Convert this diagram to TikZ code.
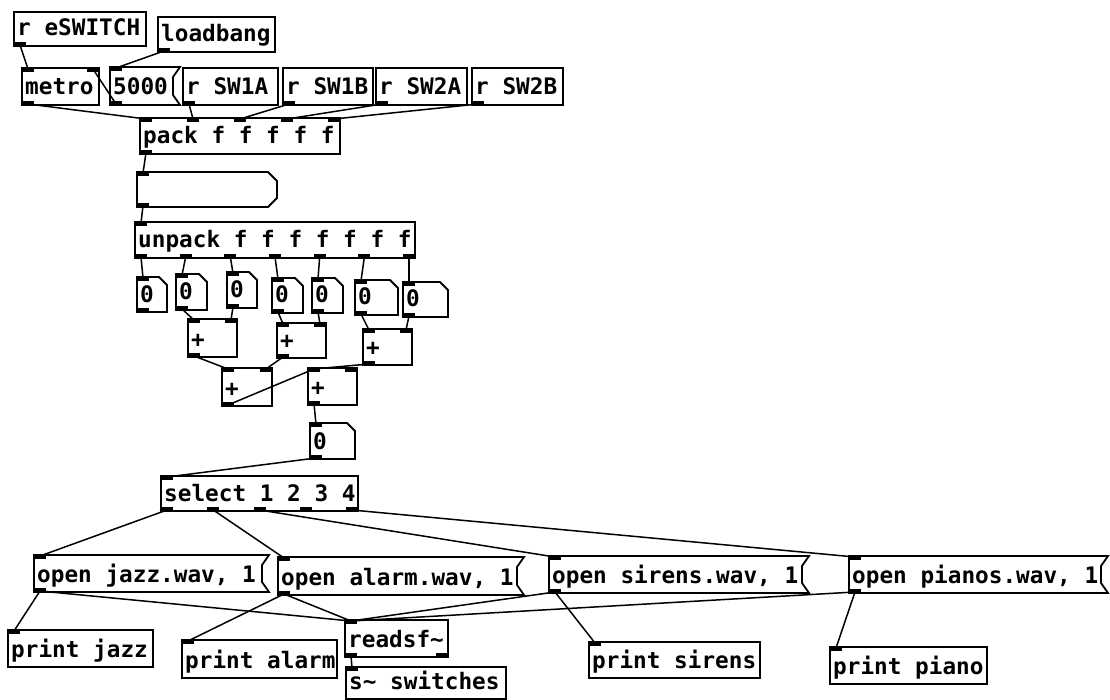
\documentclass[tikz,border=0pt]{standalone}
\usepackage{fontspec}
\newfontfamily\pdfont{DejaVu Sans Mono}
\usetikzlibrary{calc,fit}
\tikzset{
  pdbox/.style={draw=black, line width=1.8pt, inner sep=0pt, outer sep=0pt},
  pdshape/.style={draw=none, inner sep=0pt, outer sep=0pt},
  pdline/.style={line width=1.8pt, line join=miter},
  cord/.style={line width=1.5pt},
  lbl/.style={anchor=base west, inner sep=0pt, font=\pdfont\bfseries\fontsize{22.7}{24}\selectfont},
  iomark/.style={fill=black}
}
% plain object box
\newcommand\pdobj[6]{\node[pdbox, fit={(#2,#3) (#4,#5)}] (#1) {};
  \node[lbl] (#1-t) at ($(#1.south west)+(3,-10)$) {#6};}
% message box (concave flag)
\newcommand\pdmsg[6]{\node[pdshape, fit={(#2,#3) (#4,#5)}] (#1) {};
  \draw[pdline] (#1.north west) -- (#1.north east) -- ($(#1.north east)+(-7,10)$) -- ($(#1.south east)+(-7,-10)$) -- (#1.south east) -- (#1.south west) -- cycle;
  \node[lbl] (#1-t) at ($(#1.south west)+(3,-10)$) {#6};}
% list box (convex corners)
\newcommand\pdlist[5]{\node[pdshape, fit={(#2,#3) (#4,#5)}] (#1) {};
  \draw[pdline] (#1.north west) -- ($(#1.north east)+(-9,0)$) -- ($(#1.north east)+(0,9)$) -- ($(#1.south east)+(0,-9)$) -- ($(#1.south east)+(-9,0)$) -- (#1.south west) -- cycle;}
% number atom
\newcommand\pdatom[6]{\node[pdshape, fit={(#2,#3) (#4,#5)}] (#1) {};
  \draw[pdline] (#1.north west) -- ($(#1.north east)+(-8,0)$) -- ($(#1.north east)+(0,8)$) -- (#1.south east) -- (#1.south west) -- cycle;
  \node[lbl] (#1-t) at ($(#1.south west)+(3,-10)$) {#6};}
\newcommand\pdin[2]{\fill[iomark] ($(#1.north west)!#2!(#1.north east)+({-(#2)*12},-0.9)$) rectangle ++(12,5);}
\newcommand\pdout[2]{\fill[iomark] ($(#1.south west)!#2!(#1.south east)+({-(#2)*12},0.9)$) rectangle ++(12,-5);}
\newcommand\pdcord[4]{\draw[cord] ($(#1.south west)!#2!(#1.south east)+({6-(#2)*12},-1)$) -- ($(#3.north west)!#4!(#3.north east)+({6-(#4)*12},1)$);}

\begin{document}
\begin{tikzpicture}[x=1pt,y=-1pt]
\useasboundingbox (0,0) rectangle (1110,700);

% ---------- boxes ----------
\pdobj{eswitch}{14}{12}{146}{46}{r eSWITCH}
\pdobj{loadbang}{158}{17}{275}{52}{loadbang}
\pdobj{metro}{22}{68}{99}{105}{metro}
\pdmsg{mfive}{110}{67}{180}{105}{5000}
\pdobj{swa}{183}{68}{278}{105}{r SW1A}
\pdobj{swb}{283}{68}{373}{105}{r SW1B}
\pdobj{swc}{376}{68}{467}{105}{r SW2A}
\pdobj{swd}{472}{68}{563}{105}{r SW2B}
\pdobj{pack}{140}{118}{340}{154}{pack f f f f f}
\pdlist{lst}{137}{172}{277}{207}
\pdobj{unpack}{135}{222}{415}{258}{unpack f f f f f f f}
\pdatom{aa}{137}{277}{167}{312}{0}
\pdatom{ab}{176}{274}{207}{310}{0}
\pdatom{ac}{227}{272}{257}{308}{0}
\pdatom{ad}{272}{278}{303}{313}{0}
\pdatom{ae}{312}{278}{343}{313}{0}
\pdatom{af}{355}{280}{398}{315}{0}
\pdatom{ag}{403}{282}{448}{317}{0}
\pdobj{pa}{188}{319}{237}{357}{+}
\pdobj{pb}{277}{323}{326}{358}{+}
\pdobj{pc}{363}{329}{412}{365}{+}
\pdobj{pd}{222}{368}{272}{406}{+}
\pdobj{pe}{308}{368}{357}{405}{+}
\pdatom{num}{310}{423}{355}{459}{0}
\pdobj{sel}{161}{476}{358}{511}{select 1 2 3 4}
\pdmsg{ojazz}{34}{555}{269}{592}{open jazz.wav, 1}
\pdmsg{oalarm}{278}{557}{524}{595}{open alarm.wav, 1}
\pdmsg{osirens}{549}{556}{809}{593}{open sirens.wav, 1}
\pdmsg{opianos}{849}{556}{1108}{593}{open pianos.wav, 1}
\pdobj{pjazz}{8}{630}{153}{667}{print jazz}
\pdobj{palarm}{182}{640}{337}{678}{print alarm}
\pdobj{readsf}{345}{620}{448}{657}{readsf\textasciitilde}
\pdobj{sswitch}{346}{667}{506}{699}{s\textasciitilde{} switches}
\pdobj{psirens}{589}{642}{760}{678}{print sirens}
\pdobj{ppiano}{830}{647}{987}{684}{print piano}

% ---------- inlets / outlets ----------
\pdout{eswitch}{0}
\pdout{loadbang}{0}
\pdin{metro}{0}\pdin{metro}{1}\pdout{metro}{0}
\pdin{mfive}{0}\pdout{mfive}{0}
\pdout{swa}{0}\pdout{swb}{0}\pdout{swc}{0}\pdout{swd}{0}
\foreach \f in {0,0.25,0.5,0.75,1} {\pdin{pack}{\f}}
\pdout{pack}{0}
\pdin{lst}{0}\pdout{lst}{0}
\pdin{unpack}{0}
\foreach \f in {0,1/6,2/6,3/6,4/6,5/6,1} {\pdout{unpack}{\f}}
\foreach \a in {aa,ab,ac,ad,ae,af,ag,num} {\pdin{\a}{0}\pdout{\a}{0}}
\foreach \a in {pa,pb,pc,pd,pe} {\pdin{\a}{0}\pdin{\a}{1}\pdout{\a}{0}}
\pdin{sel}{0}
\foreach \f in {0,0.25,0.5,0.75,1} {\pdout{sel}{\f}}
\foreach \a in {ojazz,oalarm,osirens,opianos} {\pdin{\a}{0}\pdout{\a}{0}}
\foreach \a in {pjazz,palarm,psirens,ppiano,sswitch} {\pdin{\a}{0}}
\pdin{readsf}{0}\pdout{readsf}{0}\pdout{readsf}{1}

% ---------- cords ----------
\pdcord{eswitch}{0}{metro}{0}
\pdcord{loadbang}{0}{mfive}{0}
\pdcord{mfive}{0}{metro}{1}
\pdcord{metro}{0}{pack}{0}
\pdcord{swa}{0}{pack}{0.25}
\pdcord{swb}{0}{pack}{0.5}
\pdcord{swc}{0}{pack}{0.75}
\pdcord{swd}{0}{pack}{1}
\pdcord{pack}{0}{lst}{0}
\pdcord{lst}{0}{unpack}{0}
\pdcord{unpack}{0}{aa}{0}
\pdcord{unpack}{1/6}{ab}{0}
\pdcord{unpack}{2/6}{ac}{0}
\pdcord{unpack}{3/6}{ad}{0}
\pdcord{unpack}{4/6}{ae}{0}
\pdcord{unpack}{5/6}{af}{0}
\pdcord{unpack}{1}{ag}{0}
\pdcord{ab}{0}{pa}{0}
\pdcord{ac}{0}{pa}{1}
\pdcord{ad}{0}{pb}{0}
\pdcord{ae}{0}{pb}{1}
\pdcord{af}{0}{pc}{0}
\pdcord{ag}{0}{pc}{1}
\pdcord{pa}{0}{pd}{0}
\pdcord{pb}{0}{pd}{1}
\pdcord{pc}{0}{pe}{0}
\pdcord{pd}{0}{pe}{0}
\pdcord{pe}{0}{num}{0}
\pdcord{num}{0}{sel}{0}
\pdcord{sel}{0}{ojazz}{0}
\pdcord{sel}{0.25}{oalarm}{0}
\pdcord{sel}{0.5}{osirens}{0}
\pdcord{sel}{1}{opianos}{0}
\pdcord{ojazz}{0}{pjazz}{0}
\pdcord{ojazz}{0}{readsf}{0}
\pdcord{oalarm}{0}{palarm}{0}
\pdcord{oalarm}{0}{readsf}{0}
\pdcord{osirens}{0}{psirens}{0}
\pdcord{osirens}{0}{readsf}{0}
\pdcord{opianos}{0}{ppiano}{0}
\pdcord{opianos}{0}{readsf}{0}
\pdcord{readsf}{0}{sswitch}{0}
\end{tikzpicture}
\end{document}
